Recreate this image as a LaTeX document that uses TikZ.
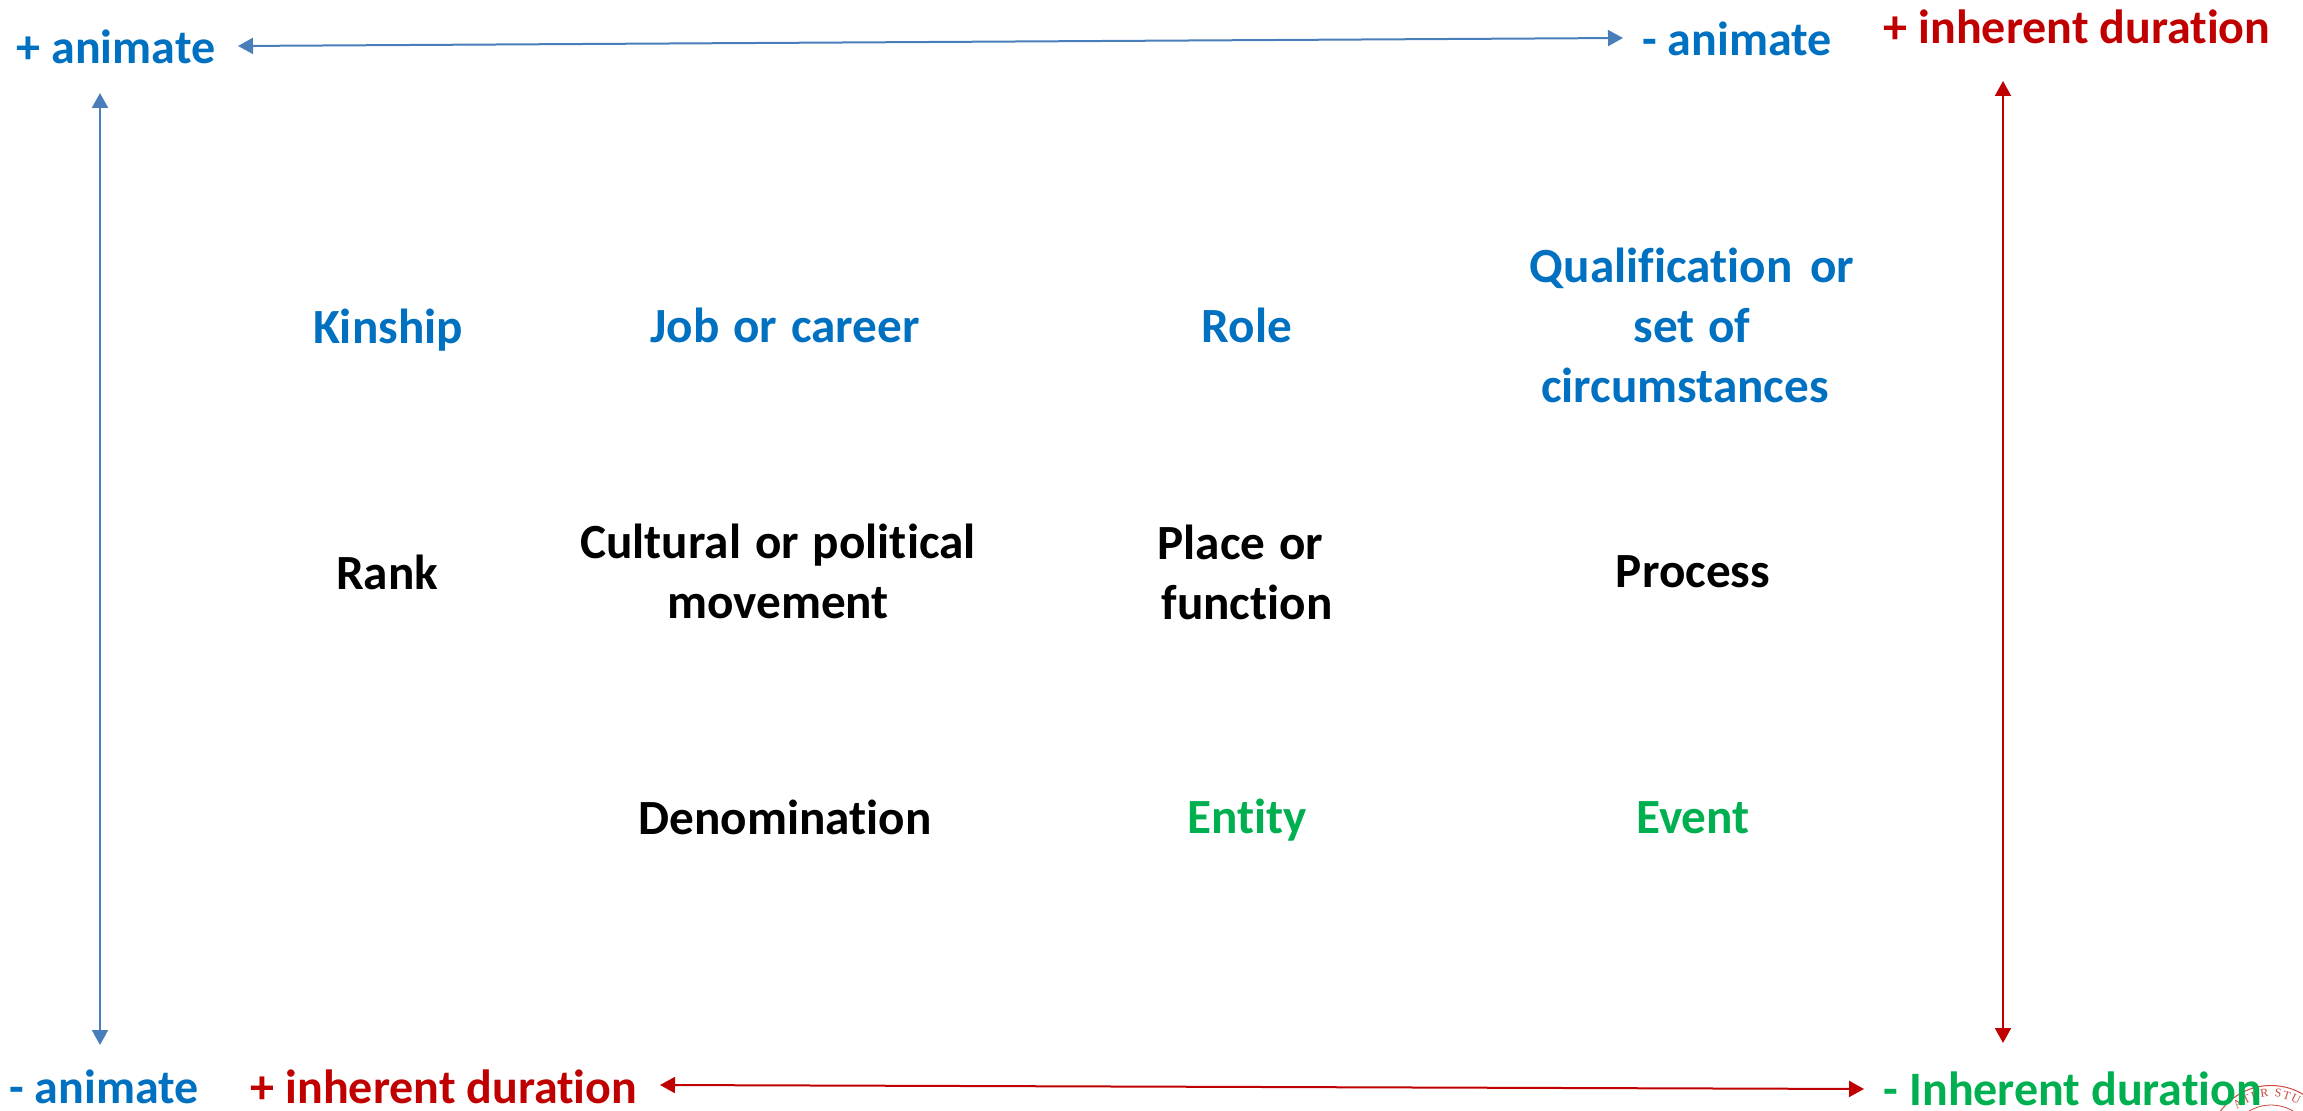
\documentclass[tikz,border=0pt]{standalone}
\usepackage{fontspec}
\setmainfont{Carlito}[BoldFont=Carlito Bold,Ligatures=CommonOff]
\newfontfamily\sealfont{Liberation Serif}
\usetikzlibrary{arrows.meta,decorations.text}
\definecolor{cblue}{RGB}{0,112,192}
\definecolor{cred}{RGB}{192,0,0}
\definecolor{cgreen}{RGB}{0,176,80}
\definecolor{lblue}{RGB}{74,126,187}
\definecolor{sealred}{RGB}{205,70,60}
\newfontfamily\innerfont{Carlito Bold}[WordSpace=1.25,Ligatures=CommonOff]
\tikzset{
  lab/.style={font=\fontsize{24pt}{29.5pt}\selectfont\bfseries,inner sep=0pt,align=center},
  inner/.style={font=\fontsize{24.6pt}{30pt}\selectfont\innerfont,inner sep=0pt,align=center},
  bluet/.style={text=cblue},
  redt/.style={text=cred},
  greent/.style={text=cgreen},
  blackt/.style={text=black},
  conn/.style={line width=1pt,{Triangle[length=7.5pt,width=8pt]}-{Triangle[length=7.5pt,width=8pt]}},
}
\begin{document}
\begin{tikzpicture}[x=0.5pt,y=-0.5pt]
\useasboundingbox (0,0) rectangle (2303,1111);
\begin{scope}
\clip (2190,1070) rectangle (2303,1111);
\draw[sealred,line width=0.5pt] (2271,1148) circle (62.5);
\draw[sealred,line width=0.4pt] (2271,1148) circle (43);
\path[decorate,decoration={text along path,text align={fit to path},text={|\sealfont\fontsize{6pt}{7pt}\selectfont\color{sealred}|ATER STU}}] (2236.9,1110.1) arc (-132:-58:51);
\end{scope}
\node[lab,bluet] (pa) at (116,47) {+ animate};
\node[lab,bluet] (ma) at (1737,39) {- animate};
\node[lab,redt] (pd) at (2077,27) {+ inherent duration};
\node[lab,bluet] (mab) at (104,1087) {- animate};
\node[lab,redt] (pdb) at (444,1087) {+ inherent duration};
\node[lab,greent] (mdb) at (2073,1089) {- Inherent duration};
\node[inner,bluet] (kin) at (388,330) {Kinship};
\node[inner,bluet] (job) at (785,325) {Job or career};
\node[inner,bluet] (role) at (1247,325) {Role};
\node[inner,bluet] (qual) at (1692,325.5) {Qualification\hspace{2pt} or\\set of\\circumstances\hspace*{7pt}};
\node[inner,blackt] (rank) at (387,572) {Rank};
\node[inner,blackt] (cult) at (778,571) {Cultural or political\\movement};
\node[inner,blackt] (place) at (1247,572.5) {Place or\hspace*{6.5pt}\\function};
\node[inner,blackt] (proc) at (1693,572) {Process};
\node[inner,blackt] (den) at (785,817) {Denomination};
\node[inner,greent] (ent) at (1247,820) {Entity};
\node[inner,greent] (evt) at (1693,818) {Event};
\coordinate (a1) at (238,46);
\coordinate (a2) at (1623,38);
\coordinate (b1) at (100,93);
\coordinate (b2) at (100,1045);
\coordinate (c1) at (2003,81);
\coordinate (c2) at (2003,1043);
\coordinate (d1) at (660,1085);
\coordinate (d2) at (1864,1089);
\draw[conn,draw=lblue,fill=lblue] (a1) -- (a2);
\draw[conn,draw=lblue,fill=lblue] (b1) -- (b2);
\draw[conn,draw=cred,fill=cred] (c1) -- (c2);
\draw[conn,draw=cred,fill=cred] (d1) -- (d2);
\end{tikzpicture}
\end{document}
